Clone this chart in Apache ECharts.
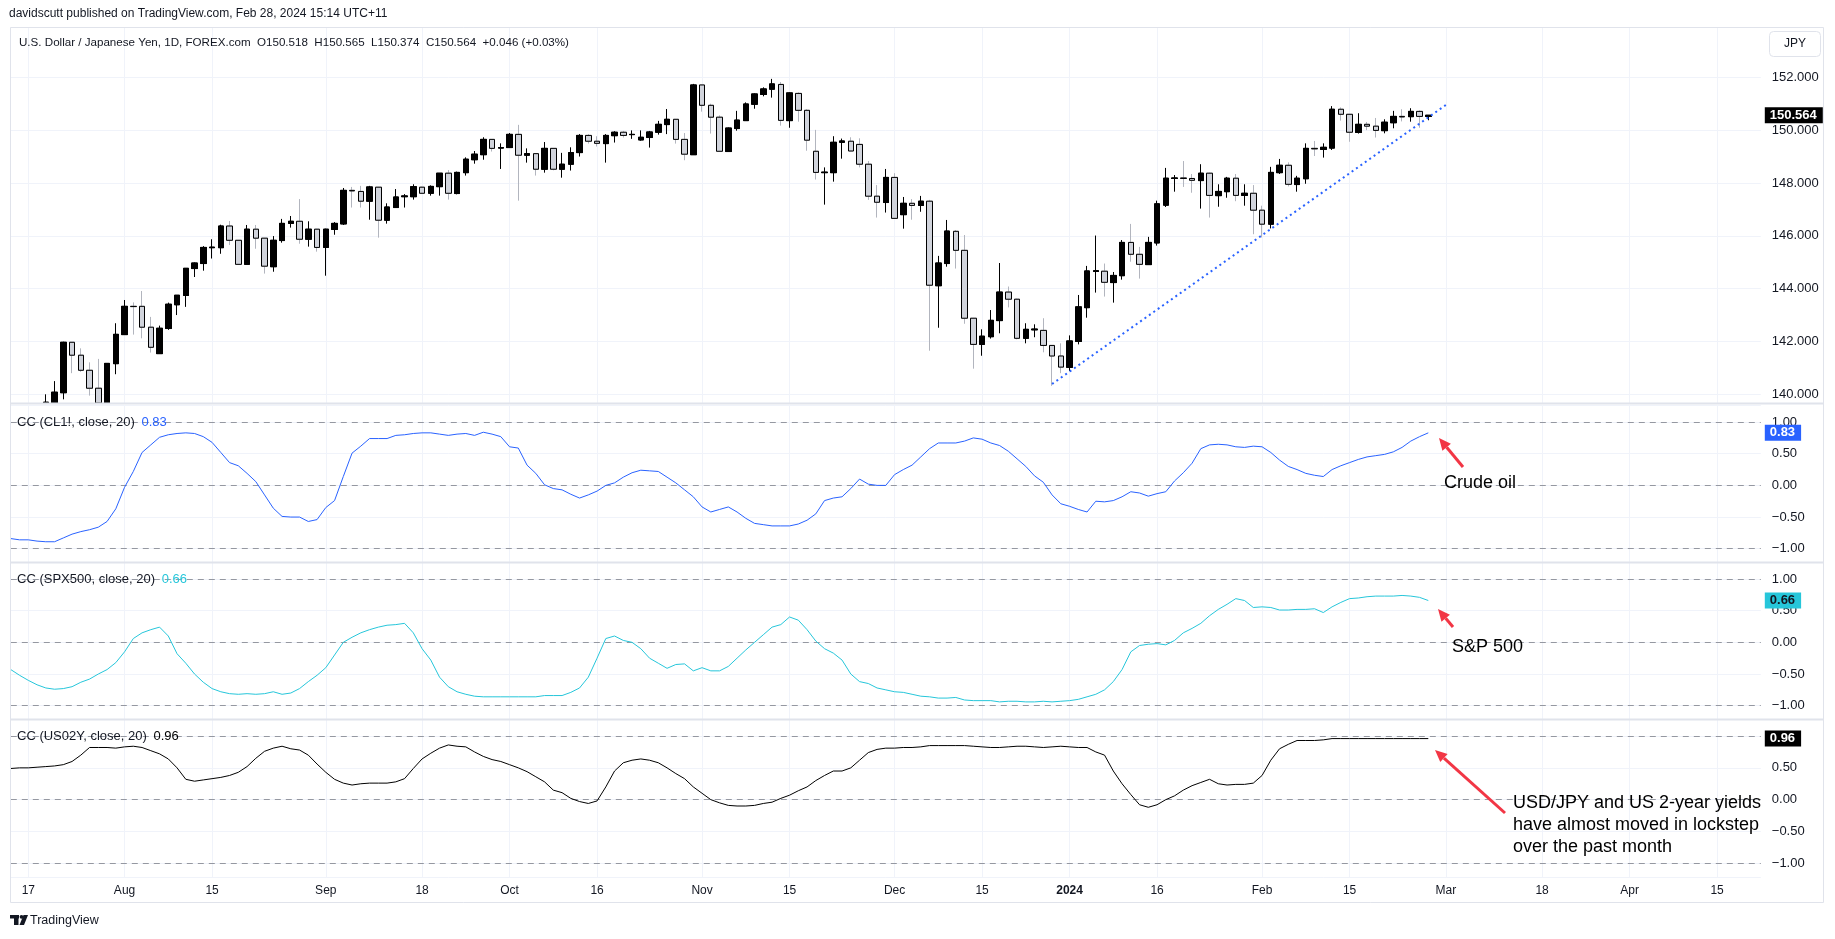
<!DOCTYPE html>
<html><head><meta charset="utf-8">
<script src="https://cdn.jsdelivr.net/npm/echarts@6/dist/echarts.min.js"></script>
<style>html,body{margin:0;padding:0;background:#fff;}#c{width:1835px;height:939px;}</style>
</head><body><div id="c"></div>
<script>
// ---------- DATA ----------
const startDate = '2023-07-13';
const endDate = '2024-04-22';
const holidays = ['2023-12-25', '2024-01-01'];
const tickLabels = [
  ['2023-07-17','17'],['2023-08-01','Aug'],['2023-08-15','15'],['2023-09-01','Sep'],['2023-09-18','18'],
  ['2023-10-02','Oct'],['2023-10-16','16'],['2023-11-01','Nov'],['2023-11-15','15'],['2023-12-01','Dec'],
  ['2023-12-15','15'],['2024-01-02','2024'],['2024-01-16','16'],['2024-02-01','Feb'],['2024-02-15','15'],
  ['2024-03-01','Mar'],['2024-03-18','18'],['2024-04-01','Apr'],['2024-04-15','15']
];
const opens = [138.50,138.10,138.80,138.70,
139.50,139.68,140.06,141.97,141.48,140.91,140.23,139.50,141.16,142.26,143.33,143.33,142.54,141.54,142.49,143.39,143.74,144.76,144.95,145.55,145.55,146.37,145.83,144.92,146.25,145.91,144.83,145.82,
146.47,146.55,145.87,146.25,145.56,146.24,146.45,147.72,147.68,147.31,147.84,146.59,147.07,147.48,147.48,147.84,147.61,147.86,148.37,147.60,148.39,148.88,149.07,149.65,149.32,
149.34,149.84,149.05,149.11,148.52,149.31,148.52,148.71,149.15,149.80,149.58,149.49,149.79,149.92,149.83,149.63,149.72,149.92,150.21,150.41,149.65,149.07,
151.71,150.94,150.49,149.19,150.06,150.36,150.98,151.35,151.55,151.73,150.36,151.39,150.75,149.20,148.39,148.39,149.54,149.58,
149.46,148.71,147.50,147.26,148.21,146.80,147.23,147.15,147.31,144.11,144.95,146.17,145.45,142.88,141.89,142.18,142.79,143.87,143.60,142.12,142.44,142.42,141.85,141.45,
141.02,142.00,143.28,144.65,144.66,144.23,144.49,145.75,145.30,144.91,145.73,147.16,148.17,148.19,148.17,148.09,148.37,147.52,147.67,148.18,147.53,147.61,146.97,146.44,148.39,148.67,147.94,148.16,149.31,149.27,149.32,150.79,150.60,149.91,150.22,150.15,149.98,150.28,150.52,150.51,150.71,150.518];
const highs = [138.90,139.00,139.40,139.60,
140.00,140.50,141.99,141.97,141.74,141.21,141.34,141.17,142.69,143.57,143.48,143.91,142.93,142.60,143.47,143.75,144.78,144.99,145.61,145.87,146.42,146.56,145.83,146.41,146.41,145.91,145.99,146.64,
146.75,147.39,146.55,146.26,146.27,146.52,147.81,147.85,147.89,147.89,147.85,147.23,147.77,147.58,147.95,147.86,147.91,148.37,148.49,148.43,148.97,149.21,149.73,149.66,149.50,
149.89,150.20,149.31,149.12,149.55,149.32,149.14,149.35,149.85,149.85,149.77,149.85,149.96,149.97,149.99,149.99,149.97,150.35,150.80,150.42,149.89,151.75,
151.72,151.00,150.56,150.10,150.73,151.05,151.39,151.62,151.94,151.82,151.43,151.43,150.79,150.01,148.59,149.77,149.68,149.73,
149.69,148.83,147.92,148.53,148.37,147.47,147.39,147.51,147.36,145.24,146.60,146.22,146.03,142.89,142.46,143.19,144.97,144.08,143.62,142.69,142.65,142.88,141.86,141.93,
142.23,143.76,144.86,146.01,144.95,144.63,145.84,146.45,145.58,145.96,147.33,148.57,148.30,148.83,148.34,148.71,148.39,147.95,148.23,148.34,147.95,147.92,147.14,148.61,148.91,148.78,148.27,149.50,149.59,149.50,150.91,150.86,150.61,150.64,150.31,150.46,150.41,150.73,150.79,150.83,150.75,150.565];
const lows = [137.20,137.30,138.50,138.50,
139.30,139.55,139.81,140.80,140.85,139.95,138.70,138.05,140.76,142.25,142.26,142.12,141.58,141.54,142.44,143.00,143.31,144.44,144.68,145.14,145.32,145.65,144.90,144.92,145.51,144.57,144.64,145.74,
146.31,145.70,145.59,145.40,144.49,146.04,146.41,147.07,147.07,146.61,145.93,146.46,147.07,147.07,147.37,147.58,147.52,147.52,147.37,147.57,148.28,148.73,148.88,149.19,148.53,
149.33,147.33,148.77,148.28,148.39,148.48,148.20,148.47,149.00,149.49,149.38,148.77,149.53,149.72,149.67,149.60,149.34,149.83,149.85,149.49,148.86,149.07,
150.70,149.87,149.20,149.18,149.98,150.36,150.81,151.28,151.23,150.17,150.09,150.32,149.22,148.13,147.18,148.05,148.92,149.21,
148.59,147.36,146.69,146.88,146.66,146.27,146.61,146.91,141.65,142.52,144.83,144.76,142.67,140.97,141.46,142.11,142.31,143.29,142.08,141.93,142.16,141.59,140.32,140.80,
140.88,141.89,142.90,143.85,143.70,143.47,144.34,145.02,144.38,144.91,145.63,147.09,147.67,147.85,147.63,147.03,146.69,147.10,147.44,147.31,147.14,146.06,145.94,146.28,148.34,147.87,147.67,147.97,149.02,148.96,149.25,150.36,149.56,149.87,150.00,149.72,149.88,150.07,150.33,150.32,150.09,150.374];
const closes = [138.10,138.80,138.70,139.50,
139.70,140.08,141.97,141.48,140.91,140.23,139.50,141.17,142.27,143.33,143.32,142.54,141.78,142.50,143.41,143.75,144.77,144.97,145.56,145.57,146.37,145.83,144.92,146.25,145.91,144.85,145.83,146.47,
146.55,145.87,146.25,145.56,146.25,146.47,147.72,147.70,147.31,147.85,146.59,147.09,147.47,147.51,147.86,147.61,147.87,148.37,147.61,148.40,148.90,149.09,149.65,149.31,149.34,
149.84,149.05,149.11,148.52,149.31,148.52,148.71,149.15,149.80,149.58,149.50,149.80,149.92,149.80,149.84,149.73,149.93,150.22,150.41,149.65,149.09,151.71,
150.94,150.49,149.20,150.08,150.38,150.99,151.37,151.56,151.75,150.37,151.41,150.75,149.62,148.40,148.41,149.54,149.59,149.21,
148.71,147.50,147.27,148.21,146.66,147.23,147.15,147.31,144.13,144.97,146.18,145.45,142.88,141.89,142.20,142.80,143.87,143.60,142.12,142.46,142.47,141.85,141.45,141.03,
142.02,143.31,144.67,144.68,144.24,144.50,145.75,145.30,144.92,145.75,147.21,148.18,148.19,148.17,148.10,148.37,147.53,147.68,148.18,147.53,147.61,146.97,146.44,148.40,148.67,147.95,148.18,149.31,149.29,149.35,150.79,150.60,149.92,150.22,150.15,149.99,150.30,150.52,150.50,150.71,150.52,150.564];
// 20-day correlation coefficients
const corrCrude = [-0.84,-0.86,-0.86,-0.88,-0.89,-0.89,-0.83,-0.77,-0.73,-0.70,-0.66,-0.57,-0.37,-0.03,0.22,0.52,0.64,0.76,0.80,0.82,
0.83,0.82,0.77,0.68,0.52,0.36,0.31,0.19,0.06,-0.15,-0.36,-0.49,-0.50,-0.50,-0.57,-0.54,-0.35,-0.24,0.14,0.51,
0.62,0.74,0.74,0.74,0.79,0.80,0.82,0.83,0.83,0.81,0.79,0.81,0.82,0.79,0.84,0.81,0.77,0.61,0.59,0.32,
0.19,0.01,-0.05,-0.07,-0.14,-0.20,-0.15,-0.09,0.00,0.04,0.13,0.20,0.24,0.23,0.22,0.13,0.04,-0.07,-0.18,-0.34,
-0.42,-0.38,-0.34,-0.42,-0.52,-0.60,-0.62,-0.64,-0.64,-0.64,-0.61,-0.55,-0.45,-0.24,-0.20,-0.18,-0.05,0.10,0.02,0.00,
0.00,0.17,0.25,0.32,0.45,0.58,0.67,0.67,0.67,0.70,0.75,0.73,0.67,0.63,0.54,0.42,0.30,0.15,0.05,-0.15,
-0.29,-0.33,-0.38,-0.42,-0.25,-0.26,-0.24,-0.18,-0.10,-0.12,-0.17,-0.13,-0.10,0.07,0.20,0.35,0.58,0.64,0.65,0.64,
0.61,0.60,0.62,0.61,0.52,0.40,0.30,0.25,0.19,0.16,0.14,0.25,0.31,0.36,0.41,0.45,0.47,0.49,0.53,0.60,
0.70,0.77,0.83];
const corrSpx = [-0.43,-0.52,-0.60,-0.67,-0.72,-0.74,-0.73,-0.70,-0.63,-0.58,-0.50,-0.43,-0.32,-0.15,0.06,0.15,0.20,0.24,0.10,-0.18,
-0.33,-0.50,-0.63,-0.73,-0.78,-0.81,-0.82,-0.81,-0.82,-0.81,-0.78,-0.82,-0.80,-0.73,-0.62,-0.52,-0.40,-0.20,0.00,0.08,
0.15,0.20,0.24,0.27,0.28,0.30,0.15,-0.10,-0.28,-0.55,-0.70,-0.78,-0.82,-0.85,-0.86,-0.86,-0.86,-0.86,-0.86,-0.86,
-0.86,-0.84,-0.84,-0.84,-0.79,-0.72,-0.55,-0.25,0.06,0.10,0.03,0.00,-0.10,-0.25,-0.33,-0.41,-0.35,-0.34,-0.45,-0.40,
-0.45,-0.45,-0.38,-0.25,-0.12,0.00,0.12,0.24,0.28,0.40,0.35,0.20,0.02,-0.10,-0.17,-0.28,-0.50,-0.62,-0.65,-0.72,
-0.75,-0.78,-0.79,-0.82,-0.85,-0.86,-0.88,-0.88,-0.87,-0.91,-0.92,-0.92,-0.92,-0.94,-0.93,-0.93,-0.94,-0.94,-0.93,-0.94,
-0.93,-0.92,-0.90,-0.86,-0.82,-0.75,-0.62,-0.43,-0.15,-0.05,-0.03,-0.02,-0.04,0.03,0.15,0.22,0.30,0.42,0.52,0.60,
0.69,0.66,0.55,0.56,0.55,0.51,0.51,0.52,0.52,0.53,0.47,0.56,0.63,0.69,0.70,0.72,0.73,0.73,0.73,0.74,
0.73,0.71,0.66];
const corrUs2y = [0.49,0.50,0.50,0.51,0.52,0.53,0.55,0.60,0.70,0.82,0.82,0.82,0.81,0.83,0.84,0.82,0.77,0.72,0.64,0.50,
0.32,0.29,0.31,0.33,0.35,0.38,0.43,0.52,0.65,0.76,0.81,0.84,0.80,0.78,0.70,0.56,0.43,0.32,0.26,0.23,
0.25,0.26,0.26,0.26,0.28,0.33,0.49,0.64,0.73,0.81,0.86,0.84,0.83,0.75,0.68,0.63,0.60,0.55,0.50,0.44,
0.36,0.28,0.15,0.11,0.02,-0.03,-0.06,-0.02,0.20,0.45,0.58,0.62,0.64,0.62,0.58,0.50,0.41,0.33,0.20,0.10,
0.00,-0.05,-0.09,-0.10,-0.10,-0.09,-0.06,-0.04,0.02,0.07,0.14,0.20,0.30,0.38,0.45,0.45,0.50,0.62,0.74,0.79,
0.81,0.81,0.82,0.82,0.83,0.85,0.85,0.85,0.85,0.85,0.84,0.83,0.82,0.82,0.83,0.84,0.84,0.83,0.82,0.83,
0.84,0.83,0.82,0.82,0.75,0.70,0.45,0.25,0.08,-0.08,-0.12,-0.08,0.00,0.06,0.15,0.22,0.27,0.32,0.25,0.23,
0.24,0.24,0.26,0.38,0.62,0.80,0.87,0.93,0.93,0.93,0.94,0.96,0.96,0.96,0.96,0.96,0.96,0.96,0.96,0.96,
0.96,0.96,0.96];
const trendLine = [['2023-12-28', 140.39], ['2024-03-01', 150.95]];
const paneNames = ['CC (CL1!, close, 20)', 'CC (SPX500, close, 20)', 'CC (US02Y, close, 20)'];
const headerTop = 'davidscutt published on TradingView.com, Feb 28, 2024 15:14 UTC+11';
const headerSymbol = 'U.S. Dollar / Japanese Yen, 1D, FOREX.com  O150.518  H150.565  L150.374  C150.564  +0.046 (+0.03%)';

// ---------- BUILD ----------
function businessDays(a, b, skip) {
  const out = []; let d = new Date(a + 'T00:00:00Z'); const e = new Date(b + 'T00:00:00Z');
  while (d <= e) { const w = d.getUTCDay(); const s = d.toISOString().slice(0, 10);
    if (w !== 0 && w !== 6 && skip.indexOf(s) < 0) out.push(s); d = new Date(d.getTime() + 86400000); }
  return out;
}
const dates = businessDays(startDate, endDate, holidays);
const tickMap = {}; tickLabels.forEach(t => tickMap[t[0]] = t[1]);
const isTick = (i, v) => tickMap[v] !== undefined;

const PRICE_MIN = 139.671, PRICE_MAX = 153.904;
// clip candles at the pane bottom (the visible price range)
const cl = v => Math.max(v, PRICE_MIN);
const ohlc = opens.map((o, i) => highs[i] < PRICE_MIN ? '-' : [cl(o), cl(closes[i]), cl(lows[i]), cl(highs[i])]);
const bodies = opens.map((o, i) => highs[i] < PRICE_MIN ? '-' :
  [cl(o), cl(closes[i]), cl(Math.min(o, closes[i])), cl(Math.max(o, closes[i]))]);
const lastClose = closes[closes.length - 1];

const FONT = "'Liberation Sans', Arial, sans-serif";
const TXT = '#131722';
const GRIDC = '#f0f3fa';
const LEFT = 10.8, RIGHT = 1835 - (10.8 + 200 * 8.75);

const paneDefs = [
  { top: 405, bottom: 562, max: 1.27, min: -1.21, data: corrCrude, color: '#2962ff', tagBg: '#2962ff', tagFg: '#ffffff' },
  { top: 562, bottom: 719, max: 1.268, min: -1.21, data: corrSpx, color: '#26c6da', tagBg: '#26c6da', tagFg: '#131722' },
  { top: 719, bottom: 877, max: 1.268, min: -1.216, data: corrUs2y, color: '#000000', tagBg: '#000000', tagFg: '#ffffff' }
];

const grids = [{ left: LEFT, right: RIGHT, top: 27, height: 403 - 27 }];
paneDefs.forEach(p => grids.push({ left: LEFT, right: RIGHT, top: p.top, height: p.bottom - p.top }));

const xAxes = grids.map((g, gi) => ({
  type: 'category', gridIndex: gi, data: dates, boundaryGap: false,
  axisLine: { show: false }, axisTick: { show: false },
  splitLine: { show: true, interval: isTick, lineStyle: { color: GRIDC, width: 1 } },
  axisLabel: gi === 3 ? {
    show: true, interval: isTick, margin: 8, color: TXT, fontSize: 12, fontFamily: FONT,
    formatter: v => v === '2024-01-02' ? '{b|' + tickMap[v] + '}' : (tickMap[v] || ''),
    rich: { b: { fontWeight: 'bold', fontSize: 12, fontFamily: FONT, color: TXT } }
  } : { show: false }
}));

const yAxes = [{
  type: 'value', gridIndex: 0, position: 'right', min: PRICE_MIN, max: PRICE_MAX, splitNumber: 7,
  axisLine: { show: false }, axisTick: { show: false },
  splitLine: { lineStyle: { color: GRIDC } },
  axisLabel: { margin: 11, color: TXT, fontSize: 13, fontFamily: FONT, showMinLabel: false, showMaxLabel: false,
    formatter: v => Math.abs(v / 2 - Math.round(v / 2)) < 1e-6 ? v.toFixed(3) : '' }
}];
paneDefs.forEach((p, i) => yAxes.push({
  type: 'value', gridIndex: i + 1, position: 'right', min: p.min, max: p.max, splitNumber: 5,
  axisLine: { show: false }, axisTick: { show: false },
  splitLine: { lineStyle: { color: GRIDC } },
  axisLabel: { margin: 11, color: TXT, fontSize: 13, fontFamily: FONT, showMinLabel: false, showMaxLabel: false,
    formatter: v => { if (Math.abs(v * 2 - Math.round(v * 2)) > 1e-6 || Math.abs(v) > 1.001) return '';
      return (v < -1e-9 ? '\u2212' : '') + Math.abs(v).toFixed(2); } }
}));

const tag = (val, txt, bg, fg) => ({
  yAxis: val, lineStyle: { color: 'rgba(0,0,0,0)', width: 0, type: 'solid' },
  label: { show: true, position: 'end', distance: 4, formatter: txt, backgroundColor: bg, color: fg,
    fontWeight: 'bold', fontSize: 13, fontFamily: FONT, padding: [2, 6, 1, 5] }
});

const series = [
  { type: 'candlestick', xAxisIndex: 0, yAxisIndex: 0, data: ohlc, barWidth: 6,
    itemStyle: { color: '#000000', color0: '#d1d4dc', borderColor: '#000000', borderColor0: '#b2b5be', borderWidth: 1 } },
  { type: 'candlestick', xAxisIndex: 0, yAxisIndex: 0, data: bodies, barWidth: 6,
    itemStyle: { color: '#000000', color0: '#d1d4dc', borderColor: '#000000', borderColor0: '#000000', borderWidth: 1 },
    markLine: { silent: true, symbol: ['none', 'none'], animation: false, z: 20,
      data: [tag(lastClose, lastClose.toFixed(3), '#000000', '#ffffff')] } },
  { type: 'line', xAxisIndex: 0, yAxisIndex: 0, data: trendLine, symbol: 'none', silent: true,
    lineStyle: { color: '#2962ff', width: 2, type: [2, 3.4] }, z: 5 }
];
paneDefs.forEach((p, i) => series.push({
  type: 'line', xAxisIndex: i + 1, yAxisIndex: i + 1, data: p.data, symbol: 'none', smooth: false,
  lineStyle: { color: p.color, width: 1 }, z: 4,
  markLine: { silent: true, symbol: ['none', 'none'], animation: false, z: 1,
    data: [
      { yAxis: 1, lineStyle: { color: '#9598a1', type: [6, 5], width: 1 }, label: { show: false } },
      { yAxis: 0, lineStyle: { color: '#9598a1', type: [6, 5], width: 1 }, label: { show: false } },
      { yAxis: -1, lineStyle: { color: '#9598a1', type: [6, 5], width: 1 }, label: { show: false } },
      tag(p.data[p.data.length - 1], p.data[p.data.length - 1].toFixed(2), p.tagBg, p.tagFg)
    ] }
}));

// ---------- ANNOTATIONS ----------
const RED = '#f23645';
function arrow(x1, y1, x2, y2) {
  const a = Math.atan2(y2 - y1, x2 - x1), L = 12, W = 5.5;
  const bx = x2 - L * Math.cos(a), by = y2 - L * Math.sin(a);
  const px = -Math.sin(a) * W, py = Math.cos(a) * W;
  return [
    { type: 'line', shape: { x1: x1, y1: y1, x2: bx, y2: by }, style: { stroke: RED, lineWidth: 3 }, z: 50 },
    { type: 'polygon', shape: { points: [[x2, y2], [bx + px, by + py], [bx - px, by - py]] }, style: { fill: RED }, z: 50 }
  ];
}
const txt = (x, y, text, size, extra) => ({ type: 'text', x: x, y: y, z: 50,
  style: Object.assign({ text: text, fontSize: size, fontFamily: FONT, fill: TXT, verticalAlign: 'middle', textVerticalAlign: 'middle' }, extra || {}) });

const graphics = [
  { type: 'rect', shape: { x: 10.5, y: 27.5, width: 1813, height: 875 }, style: { fill: 'none', stroke: '#e0e3eb', lineWidth: 1 }, z: 40 },
  { type: 'line', shape: { x1: 10, y1: 403.5, x2: 1824, y2: 403.5 }, style: { stroke: '#e0e3eb', lineWidth: 2 }, z: 40 },
  { type: 'line', shape: { x1: 10, y1: 562.5, x2: 1824, y2: 562.5 }, style: { stroke: '#e0e3eb', lineWidth: 2 }, z: 40 },
  { type: 'line', shape: { x1: 10, y1: 719.5, x2: 1824, y2: 719.5 }, style: { stroke: '#e0e3eb', lineWidth: 2 }, z: 40 },
  txt(9, 14, headerTop, 12),
  txt(19, 43, headerSymbol, 11.6),
  { type: 'rect', shape: { x: 1769.5, y: 31.5, width: 51, height: 25, r: 4 }, style: { fill: '#fff', stroke: '#e0e3eb', lineWidth: 1 }, z: 45 },
  txt(1795, 44, 'JPY', 12, { textAlign: 'center', align: 'center' }),
  // TradingView logo
  { type: 'rect', shape: { x: 10, y: 915, width: 9, height: 3.5 }, style: { fill: '#131722' }, z: 50 },
  { type: 'rect', shape: { x: 14, y: 915, width: 4.5, height: 10 }, style: { fill: '#131722' }, z: 50 },
  { type: 'circle', shape: { cx: 21.5, cy: 916.8, r: 1.9 }, style: { fill: '#131722' }, z: 50 },
  { type: 'polygon', shape: { points: [[23.5, 915], [28, 915], [24, 925], [19.5, 925]] }, style: { fill: '#131722' }, z: 50 },
  txt(30, 920.5, 'TradingView', 12.5),
  // annotations
  txt(1444, 483, 'Crude oil', 18, { fill: '#000' }),
  txt(1452, 647, 'S&P 500', 18, { fill: '#000' }),
  txt(1513, 803, 'USD/JPY and US 2-year yields', 18, { fill: '#000' }),
  txt(1513, 825, 'have almost moved in lockstep', 18, { fill: '#000' }),
  txt(1513, 847, 'over the past month', 18, { fill: '#000' })
].concat(arrow(1463, 467, 1439, 438), arrow(1453, 627, 1438, 609), arrow(1505, 813, 1435, 750));

// pane legends
const legendY = [422, 579, 736];
paneDefs.forEach((p, i) => {
  graphics.push({ type: 'text', x: 17, y: legendY[i], z: 50,
    style: { text: '{a|' + paneNames[i] + '}  {b|' + p.data[p.data.length - 1].toFixed(2) + '}',
      verticalAlign: 'middle', textVerticalAlign: 'middle',
      rich: { a: { fontSize: 13, fontFamily: FONT, fill: TXT, color: TXT },
              b: { fontSize: 13, fontFamily: FONT, fill: p.color, color: p.color } } } });
});

const chart = echarts.init(document.getElementById('c'), null, { renderer: 'canvas' });
chart.setOption({
  animation: false,
  backgroundColor: '#ffffff',
  grid: grids, xAxis: xAxes, yAxis: yAxes, series: series, graphic: graphics
});
</script></body></html>
